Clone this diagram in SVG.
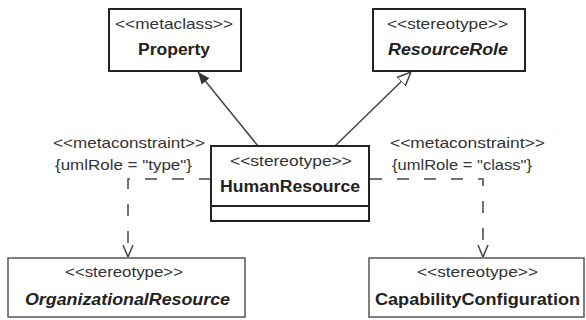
<svg xmlns="http://www.w3.org/2000/svg" width="586" height="320" viewBox="0 0 586 320">
<defs>
<style>
.box{fill:#fff;stroke:#222;stroke-width:2}
.lbox{fill:#fff;stroke:#555;stroke-width:1.5}
.st{font-family:"Liberation Sans",Arial,sans-serif;font-size:15px;fill:#333}
.nm{font-family:"Liberation Sans",Arial,sans-serif;font-size:16px;font-weight:bold;fill:#222}
.it{font-style:italic}
.edge{fill:none;stroke:#444;stroke-width:1.5}
.dash{fill:none;stroke:#444;stroke-width:1.5;stroke-dasharray:12 15}
</style>
<marker id="filled" viewBox="0 0 12 12" refX="12" refY="6" markerWidth="12" markerHeight="12" markerUnits="userSpaceOnUse" orient="auto">
<path d="M0,1 L12,6 L0,11 z" fill="#333"/>
</marker>
<marker id="hollow" viewBox="0 0 14 14" refX="14" refY="7" markerWidth="14" markerHeight="14" markerUnits="userSpaceOnUse" orient="auto">
<path d="M0,1 L14,7 L0,13 z" fill="#fff" stroke="#444" stroke-width="1.5"/>
</marker>
<marker id="open" viewBox="0 0 12 12" refX="12" refY="6" markerWidth="12" markerHeight="12" markerUnits="userSpaceOnUse" orient="auto">
<path d="M0,1 L12,6 L0,11" fill="none" stroke="#444" stroke-width="1.5"/>
</marker>
</defs>

<g id="connectors">
<path class="edge" d="M258,146 L198,72" marker-end="url(#filled)"/>
<path class="edge" d="M335,146 L411,72" marker-end="url(#hollow)"/>
<path class="dash" d="M211,179 L128,179 L128,257" marker-end="url(#open)"/>
<path class="dash" d="M370,179 L483,179 L483,257" marker-end="url(#open)"/>
<g id="constraint-left">
<text class="st" x="53" y="148" textLength="152" lengthAdjust="spacingAndGlyphs">&lt;&lt;metaconstraint&gt;&gt;</text>
<text class="st" x="55" y="170" textLength="137" lengthAdjust="spacingAndGlyphs">{umlRole = "type"}</text>
</g>
<g id="constraint-right">
<text class="st" x="390" y="148" textLength="155" lengthAdjust="spacingAndGlyphs">&lt;&lt;metaconstraint&gt;&gt;</text>
<text class="st" x="392" y="170" textLength="140" lengthAdjust="spacingAndGlyphs">{umlRole = "class"}</text>
</g>
</g>

<g id="Property">
<rect class="box" x="109" y="9" width="132" height="62"/>
<text class="st" x="115" y="29" textLength="118" lengthAdjust="spacingAndGlyphs">&lt;&lt;metaclass&gt;&gt;</text>
<text class="nm" x="138" y="55" textLength="72" lengthAdjust="spacingAndGlyphs">Property</text>
</g>

<g id="ResourceRole">
<rect class="box" x="373" y="9" width="152" height="62"/>
<text class="st" x="387" y="29" textLength="121" lengthAdjust="spacingAndGlyphs">&lt;&lt;stereotype&gt;&gt;</text>
<text class="nm it" x="388" y="55" textLength="120" lengthAdjust="spacingAndGlyphs">ResourceRole</text>
</g>

<g id="HumanResource">
<rect class="box" x="211" y="146" width="158" height="75"/>
<line x1="211" y1="206" x2="369" y2="206" stroke="#222" stroke-width="2"/>
<text class="st" x="230" y="166" textLength="122" lengthAdjust="spacingAndGlyphs">&lt;&lt;stereotype&gt;&gt;</text>
<text class="nm" x="220" y="192" textLength="140" lengthAdjust="spacingAndGlyphs">HumanResource</text>
</g>

<g id="OrganizationalResource">
<rect class="lbox" x="8" y="258" width="237" height="59"/>
<text class="st" x="65" y="277" textLength="118" lengthAdjust="spacingAndGlyphs">&lt;&lt;stereotype&gt;&gt;</text>
<text class="nm it" x="25" y="305" textLength="205" lengthAdjust="spacingAndGlyphs">OrganizationalResource</text>
</g>

<g id="CapabilityConfiguration">
<rect class="lbox" x="369" y="258" width="215" height="59"/>
<text class="st" x="417" y="277" textLength="121" lengthAdjust="spacingAndGlyphs">&lt;&lt;stereotype&gt;&gt;</text>
<text class="nm" x="375" y="305" textLength="205" lengthAdjust="spacingAndGlyphs">CapabilityConfiguration</text>
</g>
</svg>
